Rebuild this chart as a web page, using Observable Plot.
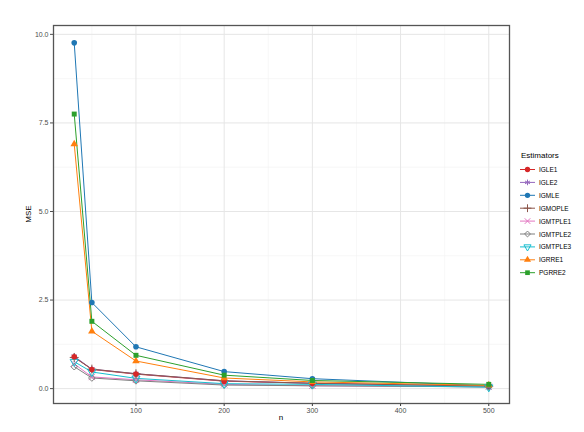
<!DOCTYPE html>
<html>
<head>
<meta charset="utf-8">
<script src="https://cdn.jsdelivr.net/npm/d3@7"></script>
<script src="https://cdn.jsdelivr.net/npm/@observablehq/plot@0.6"></script>
<style>
  html, body { margin: 0; padding: 0; background: #fff; }
  #chart { width: 584px; height: 432px; }
  svg { font-family: "Liberation Sans", Arial, sans-serif; }
</style>
</head>
<body>
<div id="chart"></div>
<script>
// ---- data ----
const n = [30, 50, 100, 200, 300, 500];
const estimators = ["IGLE1", "IGLE2", "IGMLE", "IGMOPLE", "IGMTPLE1", "IGMTPLE2", "IGMTPLE3", "IGRRE1", "PGRRE2"];
const colors = ["#d62728", "#9467bd", "#1f77b4", "#8c564b", "#e377c2", "#7f7f7f", "#17becf", "#ff7f0e", "#2ca02c"];
const IGLE1    = [0.90, 0.54, 0.41, 0.21, 0.15, 0.07];
const IGLE2    = [0.91, 0.55, 0.42, 0.22, 0.15, 0.07];
const IGMLE    = [9.76, 2.43, 1.18, 0.48, 0.28, 0.08];
const IGMOPLE  = [0.88, 0.55, 0.42, 0.22, 0.15, 0.07];
const IGMTPLE1 = [0.70, 0.33, 0.25, 0.12, 0.08, 0.05];
const IGMTPLE2 = [0.62, 0.30, 0.22, 0.10, 0.08, 0.05];
const IGMTPLE3 = [0.76, 0.47, 0.29, 0.14, 0.12, 0.04];
const IGRRE1   = [6.90, 1.62, 0.78, 0.30, 0.19, 0.09];
const PGRRE2   = [7.75, 1.90, 0.94, 0.38, 0.23, 0.12];
const series = {IGLE1, IGLE2, IGMLE, IGMOPLE, IGMTPLE1, IGMTPLE2, IGMTPLE3, IGRRE1, PGRRE2};
const xTicks = [100, 200, 300, 400, 500];
const xMinor = [50, 150, 250, 350, 450];
const yTicks = [0, 2.5, 5, 7.5, 10];
const yMinor = [1.25, 3.75, 6.25, 8.75];
const filledSet = ["IGLE1", "IGMLE", "IGRRE1", "PGRRE2"];

// custom downward triangle
const triangleDown = {
  draw(ctx, size) {
    const s = Math.sqrt(size * 4 / Math.sqrt(3));
    const h = s * Math.sqrt(3) / 2;
    ctx.moveTo(0, 2 * h / 3);
    ctx.lineTo(-s / 2, -h / 3);
    ctx.lineTo(s / 2, -h / 3);
    ctx.closePath();
  }
};
const symbols = [d3.symbolCircle, d3.symbolAsterisk, d3.symbolCircle, d3.symbolPlus, d3.symbolTimes, d3.symbolDiamond2, triangleDown, d3.symbolTriangle, d3.symbolSquare];
const symbolNames = ["circle", "asterisk", "circle", "plus", "times", "diamond2", triangleDown, "triangle", "square"];

const rows = [];
estimators.forEach(e => series[e].forEach((v, i) => rows.push({n: n[i], mse: v, est: e})));
const filledRows = rows.filter(d => filledSet.includes(d.est));
const openRows = rows.filter(d => !filledSet.includes(d.est));

const plot = Plot.plot({
  width: 584,
  height: 432,
  marginLeft: 53,
  marginRight: 75,
  marginTop: 25,
  marginBottom: 29,
  style: {fontFamily: "Liberation Sans, Arial, sans-serif", background: "#fff"},
  x: {domain: [6.5, 523.5], label: null},
  y: {domain: [-0.42, 10.25], label: null},
  color: {domain: estimators, range: colors},
  symbol: {domain: estimators, range: symbolNames},
  marks: [
    Plot.ruleX(xMinor, {stroke: "#f2f2f2", strokeWidth: 0.6}),
    Plot.ruleY(yMinor, {stroke: "#f2f2f2", strokeWidth: 0.6}),
    Plot.ruleX(xTicks, {stroke: "#e6e6e6", strokeWidth: 1}),
    Plot.ruleY(yTicks, {stroke: "#e6e6e6", strokeWidth: 1}),
    Plot.line(rows, {x: "n", y: "mse", z: "est", stroke: "est", strokeWidth: 1}),
    Plot.dot(openRows, {x: "n", y: "mse", symbol: "est", stroke: "est", r: 3, strokeWidth: 1, fill: "none"}),
    Plot.dot(filledRows, {x: "n", y: "mse", symbol: "est", fill: "est", r: 2.8, stroke: "none"}),
    Plot.axisX({ticks: xTicks, tickSize: 3, tickPadding: 2, fontSize: 7, color: "#4d4d4d", stroke: "#333", label: null}),
    Plot.axisY({ticks: yTicks, tickSize: 3, tickPadding: 2, fontSize: 7, color: "#4d4d4d", tickFormat: d3.format(".1f"), label: null}),
    Plot.frame({stroke: "#555", strokeWidth: 1.3})
  ]
});
document.getElementById("chart").appendChild(plot);

// axis titles and legend
const svg = d3.select(plot);
svg.append("text").attr("x", 281).attr("y", 420).attr("text-anchor", "middle")
  .attr("font-size", 8).attr("fill", "#000").text("n");
svg.append("text").attr("transform", "translate(31,214) rotate(-90)").attr("text-anchor", "middle")
  .attr("font-size", 8).attr("fill", "#000").text("MSE");

const lg = svg.append("g").attr("text-anchor", "start");
lg.append("text").attr("x", 521).attr("y", 158).attr("font-size", 8).attr("fill", "#000").text("Estimators");
estimators.forEach((e, i) => {
  const y = 169.5 + i * 12.9;
  const g = lg.append("g");
  g.append("line").attr("x1", 520).attr("x2", 535).attr("y1", y).attr("y2", y)
    .attr("stroke", colors[i]).attr("stroke-width", 1);
  const filled = filledSet.includes(e);
  g.append("path").attr("transform", `translate(527.5,${y})`)
    .attr("d", d3.symbol(symbols[i], 22)())
    .attr("fill", filled ? colors[i] : "none")
    .attr("stroke", filled ? "none" : colors[i]).attr("stroke-width", 1);
  g.append("text").attr("x", 539).attr("y", y + 2.5).attr("font-size", 6.5).attr("fill", "#000").text(e);
});
</script>
</body>
</html>
